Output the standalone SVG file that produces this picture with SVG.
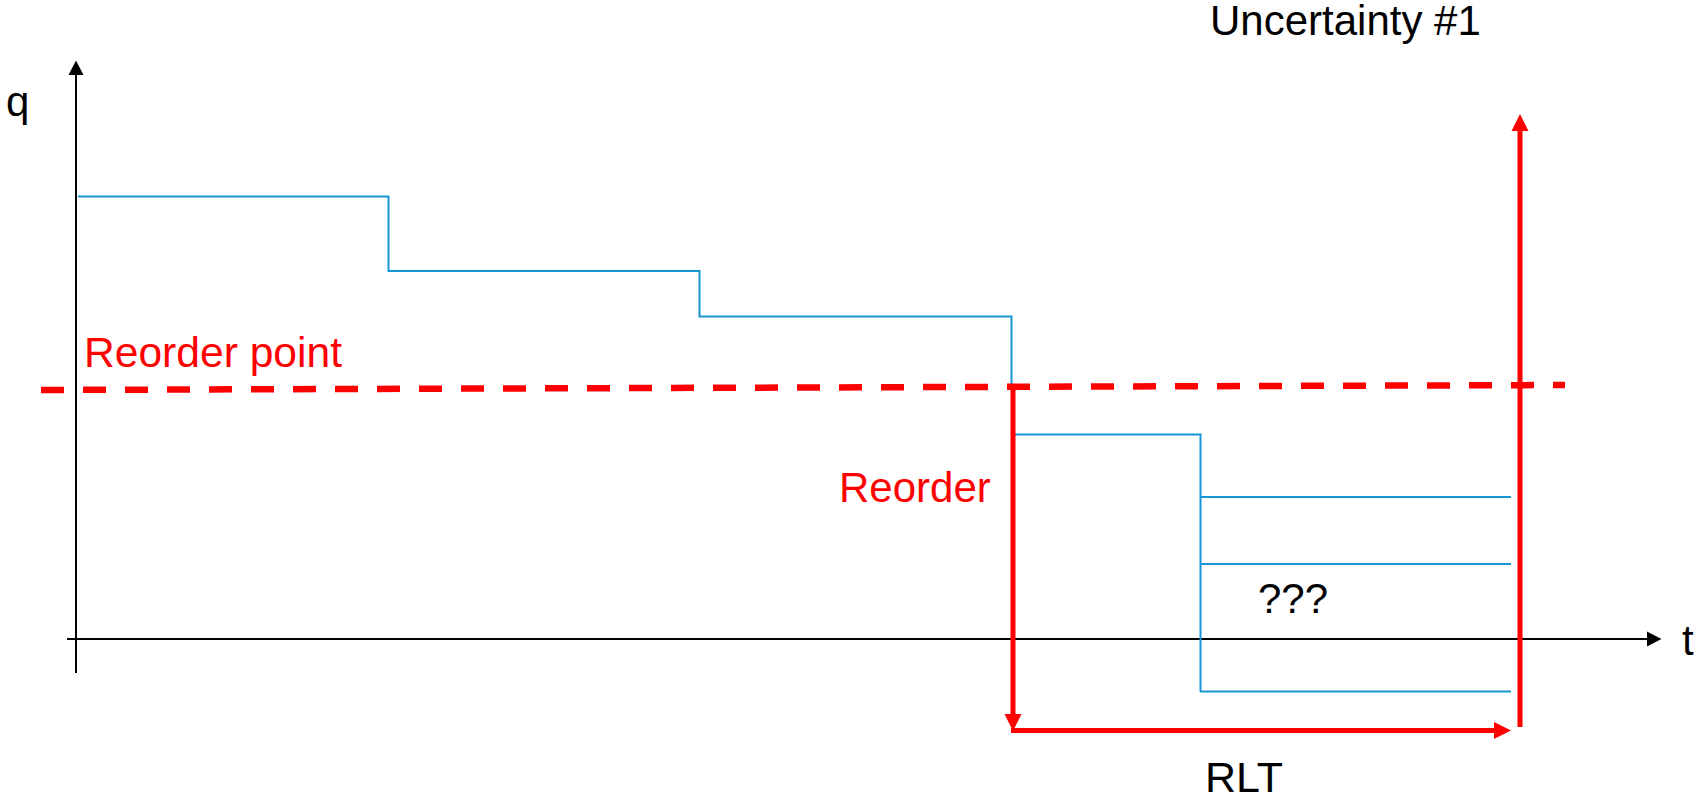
<svg xmlns="http://www.w3.org/2000/svg" width="1702" height="798" viewBox="0 0 1702 798">
  <style>
    .lbl { font-family: "Liberation Sans", Arial, sans-serif; font-size: 42px; }
    .red { fill: #ff0000; }
    .blk { fill: #000000; }
    .blue { stroke: #1796d4; stroke-width: 2; fill: none; }
    .axis { stroke: #000000; stroke-width: 2; fill: none; }
    .rarrow { stroke: #ff0000; stroke-width: 5; fill: none; }
  </style>
  <defs>
    <marker id="redHead" markerUnits="userSpaceOnUse" markerWidth="18" markerHeight="18" viewBox="0 -9 18 18" refX="0" refY="0" orient="auto">
      <path d="M0,-8.5 L17,0 L0,8.5 z" fill="#ff0000"/>
    </marker>
    <marker id="blackHead" markerUnits="userSpaceOnUse" markerWidth="16" markerHeight="16" viewBox="0 -8 16 16" refX="0" refY="0" orient="auto">
      <path d="M0,-7.5 L14.5,0 L0,7.5 z" fill="#000000"/>
    </marker>
  </defs>
  <rect width="1702" height="798" fill="#ffffff"/>

  <g id="axes">
    <line class="axis" x1="76" y1="673" x2="76" y2="75" marker-end="url(#blackHead)"/>
    <line class="axis" x1="67" y1="639" x2="1647" y2="639" marker-end="url(#blackHead)"/>
  </g>

  <g id="stock-level">
    <path class="blue" d="M78,196.5 H388.5 V271 H699.5 V316.5 H1011.5 V387"/>
    <path class="blue" d="M1015,434.5 H1200.5 V691.5"/>
    <line class="blue" x1="1200" y1="497" x2="1511" y2="497"/>
    <line class="blue" x1="1200" y1="564" x2="1511" y2="564"/>
    <line class="blue" x1="1200" y1="691.5" x2="1511" y2="691.5"/>
  </g>

  <g id="reorder-point-line">
    <line x1="41" y1="390" x2="1565" y2="385" stroke="#ff0000" stroke-width="6.5" stroke-dasharray="23 19"/>
  </g>

  <g id="connectors">
    <line class="rarrow" x1="1013" y1="386" x2="1013" y2="714" marker-end="url(#redHead)"/>
    <line class="rarrow" x1="1011" y1="730.5" x2="1494" y2="730.5" marker-end="url(#redHead)"/>
    <line class="rarrow" x1="1520" y1="727" x2="1520" y2="131" marker-end="url(#redHead)"/>
  </g>

  <g id="label-q"><text class="lbl blk" x="6" y="116">q</text></g>
  <g id="label-t"><text class="lbl blk" x="1682" y="655">t</text></g>
  <g id="label-reorder-point"><text class="lbl red" x="84" y="367" textLength="258" lengthAdjust="spacingAndGlyphs">Reorder point</text></g>
  <g id="label-reorder"><text class="lbl red" x="839" y="502">Reorder</text></g>
  <g id="label-uncertainty"><text class="lbl blk" x="1210" y="35">Uncertainty #1</text></g>
  <g id="label-unknown"><text class="lbl blk" x="1258" y="613">???</text></g>
  <g id="label-rlt"><text class="lbl blk" x="1205" y="792" textLength="78" lengthAdjust="spacingAndGlyphs">RLT</text></g>
</svg>
